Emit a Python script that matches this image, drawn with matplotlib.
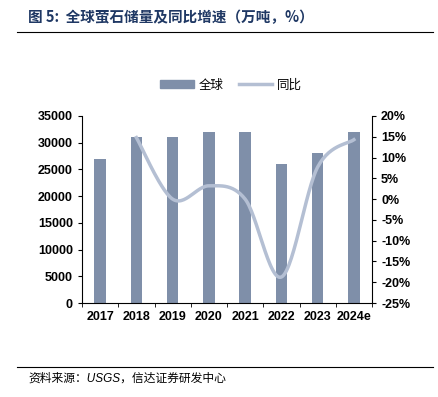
import numpy as np
import matplotlib
matplotlib.use("Agg")
import matplotlib.pyplot as plt
from matplotlib.lines import Line2D
from matplotlib.patches import Patch

years = ["2017", "2018", "2019", "2020", "2021", "2022", "2023", "2024e"]
reserves = [27000, 31000, 31000, 32000, 32000, 26000, 28000, 32000]
yoy = [None, 14.8, 0.0, 3.2, 0.0, -18.75, 7.7, 14.3]

bar_color = "#7F8FA9"
line_color = "#B4BFD3"
title_color = "#1F3864"

plt.rcParams['font.family'] = ['Liberation Sans', 'Noto Sans CJK SC']

fig = plt.figure(figsize=(4.38, 3.97), dpi=100)
ax = fig.add_axes([82/438, 1-303/397, 290/438, (303-116)/397])
x = np.arange(len(years))
ax.bar(x, reserves, width=0.32, color=bar_color, zorder=2)
ax.set_xlim(-0.5, len(years)-0.5)
ax.set_ylim(0, 35000)
ax.set_yticks(np.arange(0, 35001, 5000))
ax.set_xticks(x)
ax.set_xticklabels(years, fontweight='bold', fontsize=9)
ax.set_xticks(np.arange(-0.5, len(years)), minor=True)
ax.tick_params(axis='x', which='major', length=0, pad=6)
ax.tick_params(axis='x', which='minor', length=3, direction='out')
ax.tick_params(axis='y', length=3, direction='out')
for lab in ax.get_yticklabels():
    lab.set_fontweight('bold'); lab.set_fontsize(9)
ax.spines['top'].set_visible(False)
ax.spines['right'].set_visible(False)

ax2 = ax.twinx()
ax2.set_ylim(-25, 20)
ax2.set_yticks(np.arange(-25, 21, 5))
ax2.set_yticklabels([f"{v}%" for v in range(-25, 21, 5)], fontweight='bold', fontsize=9)
ax2.tick_params(axis='y', length=3, direction='out')
for s in ['top', 'left', 'bottom']:
    ax2.spines[s].set_visible(False)

# smoothed line (Catmull-Rom style Bezier as in Excel)
px = np.array([i for i, v in enumerate(yoy) if v is not None], dtype=float)
py = np.array([v for v in yoy if v is not None], dtype=float)
pts = np.column_stack([px, py])
curve = []
n = len(pts)
for i in range(n-1):
    p0 = pts[i-1] if i > 0 else pts[i]
    p1 = pts[i]
    p2 = pts[i+1]
    p3 = pts[i+2] if i+2 < n else pts[i+1]
    c1 = p1 + (p2 - p0)/6
    c2 = p2 - (p3 - p1)/6
    t = np.linspace(0, 1, 30)[:, None]
    seg = (1-t)**3*p1 + 3*(1-t)**2*t*c1 + 3*(1-t)*t**2*c2 + t**3*p2
    curve.append(seg if i == 0 else seg[1:])
curve = np.vstack(curve)
ax2.plot(curve[:, 0], curve[:, 1], color=line_color, lw=2.5, zorder=3)

handles = [Patch(color=bar_color), Line2D([0], [0], color=line_color, lw=2.5)]
fig.legend(handles, ["全球", "同比"], loc='center', bbox_to_anchor=(231/438, 1-85/397),
           ncol=2, frameon=False, prop={'family': ['Noto Sans CJK SC'], 'size': 9},
           handlelength=2.7, handleheight=0.6, columnspacing=1.2, handletextpad=0.4)

fig.text(28/438, 1-17/397, "图 5:  全球萤石储量及同比增速（万吨，%）", color=title_color,
         fontsize=10.5, fontweight='bold', family=['Noto Sans CJK SC'], va='center', ha='left')
fig.add_artist(Line2D([17/438, 433/438], [1-32/397, 1-32/397], color='black', lw=0.8))
fig.add_artist(Line2D([17/438, 433/438], [1-367/397, 1-367/397], color='black', lw=0.8))
fig.text(28/438, 1-379/397, "资料来源：USGS，信达证券研发中心", fontsize=8.5, style='italic',
         family=['Liberation Sans', 'Noto Sans CJK SC'], va='center', ha='left')

fig.savefig("out.png", dpi=100)
